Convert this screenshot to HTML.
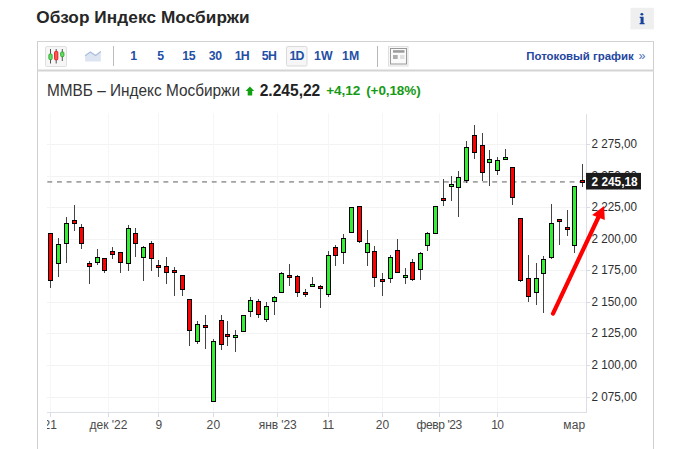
<!DOCTYPE html>
<html><head><meta charset="utf-8">
<style>
html,body{margin:0;padding:0;background:#fff;width:675px;height:449px;overflow:hidden}
svg{position:absolute;left:0;top:0;font-family:"Liberation Sans",sans-serif}
.w{stroke:#444;stroke-width:1}
.b{stroke:#000;stroke-width:1}
.g{stroke:#f3f3f3;stroke-width:1}
.gv{stroke:#f6f6f6;stroke-width:1}
.tk{stroke:#d9dce4;stroke-width:1}
.ax{font-size:12.8px;fill:#2e2e2e}
.dt{font-size:12px;fill:#4a4a4a}
.tf{font-size:12.3px;font-weight:bold;fill:#1f50a6}
</style></head><body>
<svg width="675" height="449" viewBox="0 0 675 449">
<!-- title -->
<text x="36.2" y="23.3" textLength="213.5" style="font-size:17.2px;font-weight:bold;fill:#262626">Обзор Индекс Мосбиржи</text>
<rect x="630.5" y="7.8" width="23.4" height="21.6" fill="#efefef"/>
<g fill="#1a449c"><ellipse cx="641.9" cy="14.3" rx="1.45" ry="1.25"/><path d="M639.7 16.8 H643.6 V23 H644.6 V24.2 H639.6 V23 H640.6 V17.9 H639.7 Z"/></g>
<!-- panel -->
<line x1="37.5" y1="41" x2="37.5" y2="449" stroke="#cfcfcf" stroke-width="1"/>
<line x1="653.5" y1="41" x2="653.5" y2="449" stroke="#cfcfcf" stroke-width="1"/>
<line x1="37" y1="41.5" x2="654" y2="41.5" stroke="#d2d2d2" stroke-width="1"/>
<line x1="37" y1="70.5" x2="654" y2="70.5" stroke="#d4d4d4" stroke-width="2"/>
<!-- toolbar -->
<rect x="45.5" y="46.5" width="21" height="20" rx="1.5" fill="#f6f6f6" stroke="#e0e0e0"/>
<line x1="50.5" y1="49" x2="50.5" y2="63.5" stroke="#555"/>
<rect x="48.9" y="54" width="3.2" height="5.6" rx="1" fill="#6d6" stroke="#3a3"/>
<line x1="56.2" y1="49" x2="56.2" y2="63.5" stroke="#555"/>
<rect x="54.6" y="51.4" width="3.2" height="8.5" rx="1" fill="#f55" stroke="#d22"/>
<line x1="62.3" y1="49" x2="62.3" y2="61" stroke="#555"/>
<rect x="60.7" y="52" width="3.2" height="4.7" rx="1" fill="#6d6" stroke="#3a3"/>
<path d="M85.1 55.8 L90.3 52 L95.6 55.5 L100.8 51.5 L100.8 61.5 L85.1 61.5 Z" fill="#dde5f2"/>
<path d="M85.1 55.8 L90.3 52 L95.6 55.5 L100.8 51.5" fill="none" stroke="#a9bddb" stroke-width="1.2"/>
<line x1="113.5" y1="46" x2="113.5" y2="66" stroke="#bdbdbd"/>
<rect x="286.5" y="46.5" width="20.5" height="19.5" rx="1.5" fill="#f6f6f6" stroke="#dadada"/>
<text x="130.3" y="60.2" class="tf">1</text>
<text x="157.3" y="60.2" class="tf">5</text>
<text x="182.3" y="60.2" class="tf" textLength="13.3">15</text>
<text x="208.7" y="60.2" class="tf" textLength="13.5">30</text>
<text x="234.7" y="60.2" class="tf" textLength="15">1H</text>
<text x="261.8" y="60.2" class="tf" textLength="15">5H</text>
<text x="289.5" y="60.2" class="tf" textLength="14.8">1D</text>
<text x="313.9" y="60.2" class="tf" textLength="18.8">1W</text>
<text x="342" y="60.2" class="tf" textLength="17.2">1M</text>
<line x1="377.5" y1="46" x2="377.5" y2="67" stroke="#b8b8b8"/>
<rect x="388.5" y="46.5" width="19.5" height="19.5" fill="#f7f7f7" stroke="#e0e0e0"/>
<rect x="390.5" y="48.5" width="16" height="15.5" fill="#fafafa" stroke="#999"/>
<rect x="393" y="50.2" width="11.5" height="2.5" fill="#9a9a9a"/>
<rect x="393" y="55" width="4.7" height="4" fill="#adadad"/>
<rect x="400" y="55" width="4.5" height="4" fill="#e0e0e0"/>
<text x="526.3" y="59.7" textLength="107.5" lengthAdjust="spacingAndGlyphs" style="font-size:11.8px;font-weight:bold;fill:#1f46a0">Потоковый график</text>
<text x="638.5" y="59.7" style="font-size:12.5px;fill:#4a6db5">»</text>
<!-- info line -->
<text x="47" y="95.8" textLength="193" lengthAdjust="spacingAndGlyphs" style="font-size:16.6px;fill:#333">ММВБ – Индекс Мосбиржи</text>
<path d="M249.9 86.5 L254.2 90.9 L252.2 90.9 L252.2 95.6 L247.7 95.6 L247.7 90.9 L245.6 90.9 Z" fill="#12a012"/>
<text x="259.7" y="95.7" textLength="60.6" lengthAdjust="spacingAndGlyphs" style="font-size:16.4px;font-weight:bold;fill:#222">2.245,22</text>
<text x="326.2" y="94.8" textLength="34" style="font-size:13.6px;font-weight:bold;fill:#159a15">+4,12</text>
<text x="366.2" y="94.8" textLength="54.5" style="font-size:13.5px;font-weight:bold;fill:#159a15">(+0,18%)</text>
<!-- chart -->
<line x1="47" y1="397.5" x2="586" y2="397.5" class="g"/><line x1="47" y1="365.5" x2="586" y2="365.5" class="g"/><line x1="47" y1="333.5" x2="586" y2="333.5" class="g"/><line x1="47" y1="302.5" x2="586" y2="302.5" class="g"/><line x1="47" y1="270.5" x2="586" y2="270.5" class="g"/><line x1="47" y1="239.5" x2="586" y2="239.5" class="g"/><line x1="47" y1="207.5" x2="586" y2="207.5" class="g"/><line x1="47" y1="176.5" x2="586" y2="176.5" class="g"/><line x1="47" y1="144.5" x2="586" y2="144.5" class="g"/>
<line x1="50.5" y1="113" x2="50.5" y2="412" class="gv"/><line x1="108.5" y1="113" x2="108.5" y2="412" class="gv"/><line x1="158.5" y1="113" x2="158.5" y2="412" class="gv"/><line x1="213.5" y1="113" x2="213.5" y2="412" class="gv"/><line x1="277.5" y1="113" x2="277.5" y2="412" class="gv"/><line x1="328.5" y1="113" x2="328.5" y2="412" class="gv"/><line x1="382.5" y1="113" x2="382.5" y2="412" class="gv"/><line x1="439.5" y1="113" x2="439.5" y2="412" class="gv"/><line x1="497.5" y1="113" x2="497.5" y2="412" class="gv"/>
<line x1="47" y1="412.5" x2="587" y2="412.5" stroke="#dcdfe6"/>
<line x1="586.5" y1="114" x2="586.5" y2="413" stroke="#dcdfe6"/>
<line x1="586" y1="397.5" x2="590" y2="397.5" class="tk"/><line x1="586" y1="365.5" x2="590" y2="365.5" class="tk"/><line x1="586" y1="333.5" x2="590" y2="333.5" class="tk"/><line x1="586" y1="302.5" x2="590" y2="302.5" class="tk"/><line x1="586" y1="270.5" x2="590" y2="270.5" class="tk"/><line x1="586" y1="239.5" x2="590" y2="239.5" class="tk"/><line x1="586" y1="207.5" x2="590" y2="207.5" class="tk"/><line x1="586" y1="176.5" x2="590" y2="176.5" class="tk"/><line x1="586" y1="144.5" x2="590" y2="144.5" class="tk"/>
<line x1="50.5" y1="412" x2="50.5" y2="417" class="tk"/><line x1="108.5" y1="412" x2="108.5" y2="417" class="tk"/><line x1="158.5" y1="412" x2="158.5" y2="417" class="tk"/><line x1="213.5" y1="412" x2="213.5" y2="417" class="tk"/><line x1="277.5" y1="412" x2="277.5" y2="417" class="tk"/><line x1="328.5" y1="412" x2="328.5" y2="417" class="tk"/><line x1="382.5" y1="412" x2="382.5" y2="417" class="tk"/><line x1="439.5" y1="412" x2="439.5" y2="417" class="tk"/><line x1="497.5" y1="412" x2="497.5" y2="417" class="tk"/>
<text x="591.5" y="148.30" class="ax" textLength="45.5" lengthAdjust="spacingAndGlyphs">2 275,00</text><text x="591.5" y="180.10" class="ax" textLength="45.5" lengthAdjust="spacingAndGlyphs">2 250,00</text><text x="591.5" y="211.30" class="ax" textLength="45.5" lengthAdjust="spacingAndGlyphs">2 225,00</text><text x="591.5" y="243.30" class="ax" textLength="45.5" lengthAdjust="spacingAndGlyphs">2 200,00</text><text x="591.5" y="274.30" class="ax" textLength="45.5" lengthAdjust="spacingAndGlyphs">2 175,00</text><text x="591.5" y="306.30" class="ax" textLength="45.5" lengthAdjust="spacingAndGlyphs">2 150,00</text><text x="591.5" y="337.30" class="ax" textLength="45.5" lengthAdjust="spacingAndGlyphs">2 125,00</text><text x="591.5" y="369.30" class="ax" textLength="45.5" lengthAdjust="spacingAndGlyphs">2 100,00</text><text x="591.5" y="401.30" class="ax" textLength="45.5" lengthAdjust="spacingAndGlyphs">2 075,00</text>
<line x1="47.33" y1="181.9" x2="586" y2="181.9" stroke="#a2a2a2" stroke-width="1.6" stroke-dasharray="4.9 4.772"/>
<line x1="50.5" y1="233" x2="50.5" y2="288" class="w"/>
<rect x="48.5" y="233.5" width="4" height="47" fill="#ff0000" class="b"/>
<line x1="58.5" y1="238" x2="58.5" y2="277" class="w"/>
<rect x="56.5" y="244.5" width="4" height="19" fill="#33ee33" class="b"/>
<line x1="66.5" y1="217" x2="66.5" y2="263" class="w"/>
<rect x="64.5" y="223.5" width="4" height="20" fill="#33ee33" class="b"/>
<line x1="74.5" y1="205" x2="74.5" y2="231" class="w"/>
<rect x="72.5" y="220.5" width="4" height="3" fill="#ff0000" class="b"/>
<line x1="81.5" y1="224" x2="81.5" y2="249" class="w"/>
<rect x="79.5" y="227.5" width="4" height="16" fill="#ff0000" class="b"/>
<line x1="89.5" y1="261" x2="89.5" y2="284" class="w"/>
<rect x="87.5" y="263.5" width="4" height="3" fill="#ff0000" class="b"/>
<line x1="97.5" y1="249" x2="97.5" y2="265" class="w"/>
<rect x="95.5" y="257.5" width="4" height="5" fill="#33ee33" class="b"/>
<line x1="104.5" y1="258" x2="104.5" y2="273" class="w"/>
<rect x="102.5" y="258.5" width="4" height="12" fill="#ff0000" class="b"/>
<line x1="112.5" y1="247" x2="112.5" y2="259" class="w"/>
<rect x="110.5" y="251.5" width="4" height="3" fill="#ff0000" class="b"/>
<line x1="120.5" y1="252" x2="120.5" y2="273" class="w"/>
<rect x="118.5" y="252.5" width="4" height="10" fill="#ff0000" class="b"/>
<line x1="128.5" y1="225" x2="128.5" y2="271" class="w"/>
<rect x="126.5" y="228.5" width="4" height="35" fill="#33ee33" class="b"/>
<line x1="135.5" y1="228" x2="135.5" y2="257" class="w"/>
<rect x="133.5" y="233.5" width="4" height="10" fill="#ff0000" class="b"/>
<line x1="143.5" y1="246" x2="143.5" y2="281" class="w"/>
<rect x="141.5" y="247.5" width="4" height="10" fill="#33ee33" class="b"/>
<line x1="151.5" y1="241" x2="151.5" y2="271" class="w"/>
<rect x="149.5" y="243.5" width="4" height="15" fill="#ff0000" class="b"/>
<line x1="158.5" y1="260" x2="158.5" y2="277" class="w"/>
<rect x="156.5" y="265.5" width="4" height="2" fill="#ff0000" class="b"/>
<line x1="166.5" y1="257" x2="166.5" y2="284" class="w"/>
<rect x="164.5" y="266.5" width="4" height="6" fill="#ff0000" class="b"/>
<line x1="174.5" y1="267" x2="174.5" y2="296" class="w"/>
<rect x="172.5" y="270.5" width="4" height="2" fill="#ff0000" class="b"/>
<line x1="182.5" y1="275" x2="182.5" y2="296" class="w"/>
<rect x="180.5" y="275.5" width="4" height="14" fill="#ff0000" class="b"/>
<line x1="189.5" y1="299" x2="189.5" y2="346" class="w"/>
<rect x="187.5" y="299.5" width="4" height="31" fill="#ff0000" class="b"/>
<line x1="197.5" y1="321" x2="197.5" y2="344" class="w"/>
<rect x="195.5" y="324.5" width="4" height="17" fill="#33ee33" class="b"/>
<line x1="205.5" y1="315" x2="205.5" y2="349" class="w"/>
<rect x="203.5" y="325.5" width="4" height="2" fill="#ff0000" class="b"/>
<line x1="213.5" y1="339" x2="213.5" y2="402" class="w"/>
<rect x="211.5" y="341.5" width="4" height="60" fill="#33ee33" class="b"/>
<line x1="221.5" y1="315" x2="221.5" y2="350" class="w"/>
<rect x="219.5" y="320.5" width="4" height="24" fill="#ff0000" class="b"/>
<line x1="227.5" y1="321" x2="227.5" y2="346" class="w"/>
<rect x="225.5" y="334.5" width="4" height="2" fill="#ff0000" class="b"/>
<line x1="235.5" y1="330" x2="235.5" y2="352" class="w"/>
<rect x="233.5" y="335.5" width="4" height="2" fill="#33ee33" class="b"/>
<line x1="243.5" y1="315" x2="243.5" y2="332" class="w"/>
<rect x="241.5" y="315.5" width="4" height="16" fill="#33ee33" class="b"/>
<line x1="250.5" y1="297" x2="250.5" y2="317" class="w"/>
<rect x="248.5" y="300.5" width="4" height="11" fill="#33ee33" class="b"/>
<line x1="258.5" y1="299" x2="258.5" y2="318" class="w"/>
<rect x="256.5" y="301.5" width="4" height="13" fill="#ff0000" class="b"/>
<line x1="266.5" y1="302" x2="266.5" y2="322" class="w"/>
<rect x="264.5" y="306.5" width="4" height="13" fill="#33ee33" class="b"/>
<line x1="274.5" y1="296" x2="274.5" y2="315" class="w"/>
<rect x="272.5" y="297.5" width="4" height="4" fill="#33ee33" class="b"/>
<line x1="281.5" y1="272" x2="281.5" y2="293" class="w"/>
<rect x="279.5" y="273.5" width="4" height="19" fill="#33ee33" class="b"/>
<line x1="289.5" y1="264" x2="289.5" y2="286" class="w"/>
<rect x="287.5" y="275.5" width="4" height="2" fill="#ff0000" class="b"/>
<line x1="297.5" y1="275" x2="297.5" y2="297" class="w"/>
<rect x="295.5" y="276.5" width="4" height="16" fill="#ff0000" class="b"/>
<line x1="305.5" y1="289" x2="305.5" y2="297" class="w"/>
<rect x="303.5" y="292.5" width="4" height="2" fill="#ff0000" class="b"/>
<line x1="312.5" y1="277" x2="312.5" y2="287" class="w"/>
<rect x="310.5" y="284.5" width="4" height="2" fill="#33ee33" class="b"/>
<line x1="320.5" y1="285" x2="320.5" y2="308" class="w"/>
<rect x="318.5" y="286.5" width="4" height="2" fill="#ff0000" class="b"/>
<line x1="328.5" y1="251" x2="328.5" y2="297" class="w"/>
<rect x="326.5" y="255.5" width="4" height="39" fill="#33ee33" class="b"/>
<line x1="335.5" y1="245" x2="335.5" y2="266" class="w"/>
<rect x="333.5" y="247.5" width="4" height="8" fill="#ff0000" class="b"/>
<line x1="343.5" y1="234" x2="343.5" y2="264" class="w"/>
<rect x="341.5" y="238.5" width="4" height="14" fill="#33ee33" class="b"/>
<line x1="351.5" y1="207" x2="351.5" y2="233" class="w"/>
<rect x="349.5" y="207.5" width="4" height="25" fill="#33ee33" class="b"/>
<line x1="359.5" y1="206" x2="359.5" y2="243" class="w"/>
<rect x="357.5" y="206.5" width="4" height="35" fill="#ff0000" class="b"/>
<line x1="367.5" y1="230" x2="367.5" y2="266" class="w"/>
<rect x="365.5" y="243.5" width="4" height="9" fill="#33ee33" class="b"/>
<line x1="374.5" y1="246" x2="374.5" y2="287" class="w"/>
<rect x="372.5" y="251.5" width="4" height="26" fill="#ff0000" class="b"/>
<line x1="382.5" y1="273" x2="382.5" y2="296" class="w"/>
<rect x="380.5" y="279.5" width="4" height="2" fill="#ff0000" class="b"/>
<line x1="390.5" y1="255" x2="390.5" y2="283" class="w"/>
<rect x="388.5" y="257.5" width="4" height="21" fill="#33ee33" class="b"/>
<line x1="397.5" y1="239" x2="397.5" y2="273" class="w"/>
<rect x="395.5" y="250.5" width="4" height="22" fill="#ff0000" class="b"/>
<line x1="405.5" y1="268" x2="405.5" y2="284" class="w"/>
<rect x="403.5" y="275.5" width="4" height="2" fill="#33ee33" class="b"/>
<line x1="412.5" y1="259" x2="412.5" y2="281" class="w"/>
<rect x="410.5" y="262.5" width="4" height="17" fill="#ff0000" class="b"/>
<line x1="420.5" y1="252" x2="420.5" y2="280" class="w"/>
<rect x="418.5" y="253.5" width="4" height="16" fill="#33ee33" class="b"/>
<line x1="427.5" y1="232" x2="427.5" y2="251" class="w"/>
<rect x="425.5" y="233.5" width="4" height="12" fill="#33ee33" class="b"/>
<line x1="435.5" y1="206" x2="435.5" y2="234" class="w"/>
<rect x="433.5" y="206.5" width="4" height="27" fill="#33ee33" class="b"/>
<line x1="443.5" y1="179" x2="443.5" y2="206" class="w"/>
<rect x="441.5" y="198.5" width="4" height="2" fill="#ff0000" class="b"/>
<line x1="451.5" y1="176" x2="451.5" y2="201" class="w"/>
<rect x="449.5" y="184.5" width="4" height="2" fill="#33ee33" class="b"/>
<line x1="458.5" y1="171" x2="458.5" y2="217" class="w"/>
<rect x="456.5" y="177.5" width="4" height="10" fill="#33ee33" class="b"/>
<line x1="466.5" y1="141" x2="466.5" y2="183" class="w"/>
<rect x="464.5" y="147.5" width="4" height="33" fill="#33ee33" class="b"/>
<line x1="474.5" y1="125" x2="474.5" y2="159" class="w"/>
<rect x="472.5" y="135.5" width="4" height="17" fill="#ff0000" class="b"/>
<line x1="482.5" y1="133" x2="482.5" y2="181" class="w"/>
<rect x="480.5" y="145.5" width="4" height="27" fill="#ff0000" class="b"/>
<line x1="489.5" y1="150" x2="489.5" y2="186" class="w"/>
<rect x="487.5" y="159.5" width="4" height="3" fill="#33ee33" class="b"/>
<line x1="497.5" y1="157" x2="497.5" y2="175" class="w"/>
<rect x="495.5" y="160.5" width="4" height="10" fill="#33ee33" class="b"/>
<line x1="505.5" y1="149" x2="505.5" y2="160" class="w"/>
<rect x="503.5" y="157.5" width="4" height="2" fill="#33ee33" class="b"/>
<line x1="512.5" y1="167" x2="512.5" y2="205" class="w"/>
<rect x="510.5" y="167.5" width="4" height="30" fill="#ff0000" class="b"/>
<line x1="520.5" y1="218" x2="520.5" y2="282" class="w"/>
<rect x="518.5" y="218.5" width="4" height="62" fill="#ff0000" class="b"/>
<line x1="528.5" y1="255" x2="528.5" y2="302" class="w"/>
<rect x="526.5" y="278.5" width="4" height="18" fill="#ff0000" class="b"/>
<line x1="536.5" y1="263" x2="536.5" y2="305" class="w"/>
<rect x="534.5" y="278.5" width="4" height="14" fill="#33ee33" class="b"/>
<line x1="543.5" y1="256" x2="543.5" y2="313" class="w"/>
<rect x="541.5" y="259.5" width="4" height="14" fill="#33ee33" class="b"/>
<line x1="551.5" y1="204" x2="551.5" y2="259" class="w"/>
<rect x="549.5" y="223.5" width="4" height="34" fill="#33ee33" class="b"/>
<line x1="559.5" y1="219" x2="559.5" y2="245" class="w"/>
<rect x="557.5" y="219.5" width="4" height="2" fill="#ff0000" class="b"/>
<line x1="567.5" y1="210" x2="567.5" y2="236" class="w"/>
<rect x="565.5" y="227.5" width="4" height="2" fill="#ff0000" class="b"/>
<line x1="574.5" y1="186" x2="574.5" y2="253" class="w"/>
<rect x="572.5" y="186.5" width="4" height="59" fill="#33ee33" class="b"/>
<line x1="582.5" y1="164" x2="582.5" y2="187" class="w"/>
<rect x="580.5" y="180.5" width="4" height="2" fill="#ff0000" class="b"/>
<rect x="586" y="172.9" width="55" height="16.6" fill="#1c1c1c"/>
<text x="591.6" y="185.9" textLength="46" lengthAdjust="spacingAndGlyphs" style="font-size:12.6px;font-weight:bold;fill:#fff">2 245,18</text>
<clipPath id="cl"><rect x="47" y="0" width="600" height="449"/></clipPath>
<text x="43.6" y="429" class="dt" clip-path="url(#cl)">21</text>
<text x="89.6" y="429" class="dt" textLength="37.8">дек '22</text>
<text x="155.6" y="429" class="dt">9</text>
<text x="206.5" y="429" class="dt" textLength="13.6">20</text>
<text x="258.8" y="429" class="dt" textLength="38">янв '23</text>
<text x="322.3" y="429" class="dt" textLength="12">11</text>
<text x="375.7" y="429" class="dt" textLength="13.5">20</text>
<text x="416.5" y="429" class="dt" textLength="45.8">февр '23</text>
<text x="491.2" y="429" class="dt" textLength="12.8">10</text>
<text x="563.3" y="429" class="dt" textLength="22">мар</text>
<!-- arrow -->
<line x1="553" y1="313.6" x2="598.3" y2="217.5" stroke="#ff0000" stroke-width="4.2" stroke-linecap="round"/>
<path d="M604.1 206 L592.1 215.1 L604.8 220.1 Z" fill="#ff0000"/>
</svg>
</body></html>
